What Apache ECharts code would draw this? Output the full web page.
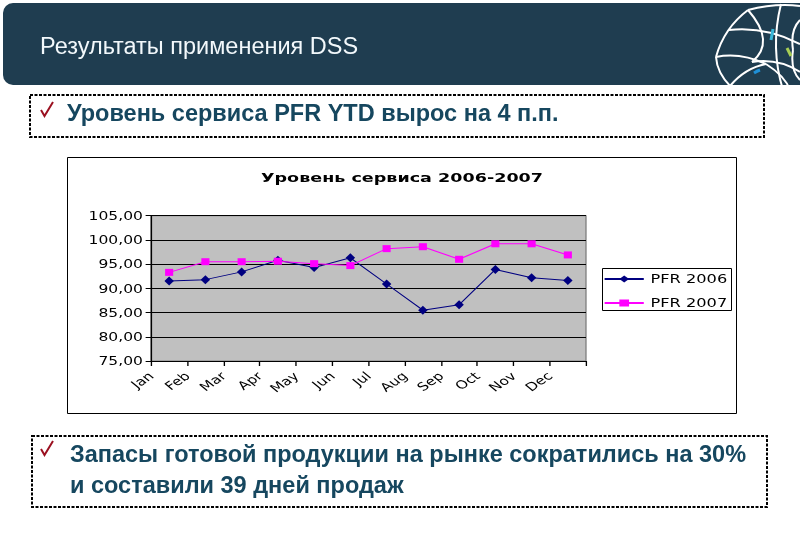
<!DOCTYPE html>
<html><head><meta charset="utf-8">
<script src="https://cdn.jsdelivr.net/npm/echarts@6/dist/echarts.min.js"></script>
<style>
html,body{margin:0;padding:0;background:#fff;overflow:hidden;}
#page{position:absolute;left:0;top:0;width:800px;height:552px;}
#chart{position:absolute;left:67px;top:157px;width:496px;height:257px;transform:scaleX(1.3508);transform-origin:0 0;}
</style></head><body>
<div id="page"></div><div id="chart"></div>
<script>
// ---- data ----
const months = ['Jan','Feb','Mar','Apr','May','Jun','Jul','Aug','Sep','Oct','Nov','Dec'];
const xLabels = ['Jan','Feb','Mar','Apr','May','Jun','Jul','Aug','Sep','Oct','Nov','Dec',''];
const pfr2006 = [91.5, 91.8, 93.4, 95.8, 94.3, 96.3, 90.9, 85.5, 86.6, 93.9, 92.2, 91.6];
const pfr2007 = [93.3, 95.5, 95.5, 95.6, 95.1, 94.7, 98.2, 98.6, 96.0, 99.2, 99.2, 96.9];
const seriesNames = ['PFR 2006', 'PFR 2007'];
const yMin = 75, yMax = 105, yStep = 5;
const chartTitle = 'Уровень сервиса 2006-2007';
const slideTitle = 'Результаты применения DSS';
const point1 = 'Уровень сервиса PFR YTD вырос на 4 п.п.';
const point2Lines = ['Запасы готовой продукции на рынке сократились на 30%', 'и составили 39 дней продаж'];

// ---- slide ----
const page = echarts.init(document.getElementById('page'), null, {renderer: 'canvas', width: 800, height: 552});
const white = '#ffffff';
function curve(x1, y1, cx, cy, x2, y2, color, w) {
  return {type: 'bezierCurve', shape: {x1, y1, cpx1: cx, cpy1: cy, x2, y2}, style: {stroke: color || white, lineWidth: w || 2, fill: null}, silent: true};
}
function check(x, y) {
  return {type: 'polyline', shape: {points: [[x, y + 6], [x + 3.5, y + 12], [x + 12, y - 2]]}, style: {stroke: '#9b1020', lineWidth: 2, fill: null}};
}
const textColor = '#16475f';
const boldFont = 'bold 23.5px "Liberation Sans", Arial, sans-serif';
page.setOption({
  animation: false,
  backgroundColor: '#ffffff',
  graphic: [
    {type: 'rect', shape: {x: 3, y: 3, width: 820, height: 82, r: 10}, style: {fill: '#1f3d50'}},
    // logo
    curve(748, 10, 775, 3, 800, 6),
    curve(748, 10, 724, 28, 716, 57),
    curve(716, 57, 717, 73, 731, 87),
    curve(729, 30, 765, 26, 800, 44),
    curve(781, 4, 770, 48, 783, 90),
    curve(748, 10, 776, 42, 752, 62),
    curve(716, 57, 740, 52, 766, 64),
    curve(752, 62, 778, 58, 800, 72),
    curve(730, 86, 745, 68, 766, 64),
    curve(766, 64, 785, 76, 790, 90),
    curve(800, 20, 790, 30, 793, 50),
    curve(793, 50, 790, 70, 800, 80),
    curve(773, 29, 772, 35, 771, 40, '#38b7d8', 3),
    curve(787, 48, 789, 52, 791, 56, '#a8cf55', 3),
    curve(754, 73, 757, 71, 760, 70, '#1f8fd6', 3),
    {type: 'text', style: {text: slideTitle, x: 40, y: 48, fill: '#f2f8fb', font: '23.5px "Liberation Sans", Arial, sans-serif', verticalAlign: 'middle'}},
    // box 1
    {type: 'rect', shape: {x: 30, y: 95, width: 734, height: 42}, style: {fill: null, stroke: '#000', lineWidth: 2, lineDash: [3, 1.5]}},
    check(41, 104),
    {type: 'text', style: {text: point1, x: 67, y: 115, fill: textColor, font: boldFont, verticalAlign: 'middle'}},
    // chart frame
    {type: 'rect', shape: {x: 67.5, y: 157.5, width: 669, height: 256}, style: {fill: '#fff', stroke: '#000', lineWidth: 1}},
    {type: 'rect', shape: {x: 602.5, y: 268.5, width: 129, height: 42}, style: {fill: '#fff', stroke: '#000', lineWidth: 1}},
    // box 2
    {type: 'rect', shape: {x: 32, y: 436, width: 735, height: 71}, style: {fill: null, stroke: '#000', lineWidth: 2, lineDash: [3, 1.5]}},
    check(41, 443),
    {type: 'text', style: {text: point2Lines[0], x: 70, y: 456, fill: textColor, font: boldFont, verticalAlign: 'middle'}},
    {type: 'text', style: {text: point2Lines[1], x: 70, y: 487, fill: textColor, font: boldFont, verticalAlign: 'middle'}}
  ]
});

// ---- Excel-style chart (horizontally stretched like the original picture) ----
const chart = echarts.init(document.getElementById('chart'), null, {renderer: 'svg', width: 496, height: 257});
const font = 'DejaVu Sans';
chart.setOption({
  animation: false,
  backgroundColor: 'transparent',
  title: {text: chartTitle, left: 'center', top: 14, padding: 0,
    textStyle: {fontFamily: font, fontWeight: 'bold', fontSize: 13, color: '#000'}},
  legend: {orient: 'vertical', left: 397, top: 116, itemWidth: 29, itemHeight: 9, itemGap: 12, padding: 0,
    data: seriesNames, textStyle: {fontFamily: font, fontSize: 12, color: '#000'}},
  grid: {left: 62.2, right: 111.8, top: 58.7, bottom: 53, show: true, backgroundColor: '#c0c0c0', borderColor: '#808080', borderWidth: 1},
  xAxis: [
    {type: 'category', data: months, boundaryGap: true,
      axisLine: {onZero: false, lineStyle: {color: '#000', width: 1}},
      axisTick: {show: true, interval: 0, length: 5, lineStyle: {color: '#000'}},
      axisLabel: {show: false}, splitLine: {show: false}},
    {type: 'category', data: xLabels, boundaryGap: false, position: 'bottom',
      axisLine: {show: false}, axisTick: {show: false}, splitLine: {show: false},
      axisLabel: {interval: 0, rotate: 42, margin: 13, fontFamily: font, fontSize: 11.5, color: '#000'}}
  ],
  yAxis: {type: 'value', min: yMin, max: yMax, interval: yStep,
    axisLine: {show: true, lineStyle: {color: '#000', width: 1}},
    axisTick: {show: true, length: 4, lineStyle: {color: '#000'}},
    splitLine: {show: true, lineStyle: {color: '#000', width: 1}},
    axisLabel: {margin: 6, fontFamily: font, fontSize: 11.5, color: '#000',
      formatter: v => v.toFixed(2).replace('.', ',')}},
  series: [
    {name: seriesNames[0], type: 'line', data: pfr2006, xAxisIndex: 0, symbol: 'diamond', symbolSize: [7, 9],
      itemStyle: {color: '#000080'}, lineStyle: {color: '#000080', width: 1}},
    {name: seriesNames[1], type: 'line', data: pfr2007, xAxisIndex: 0, symbol: 'rect', symbolSize: [6, 7],
      itemStyle: {color: '#ff00ff'}, lineStyle: {color: '#ff00ff', width: 1}}
  ]
});
</script>
</body></html>
